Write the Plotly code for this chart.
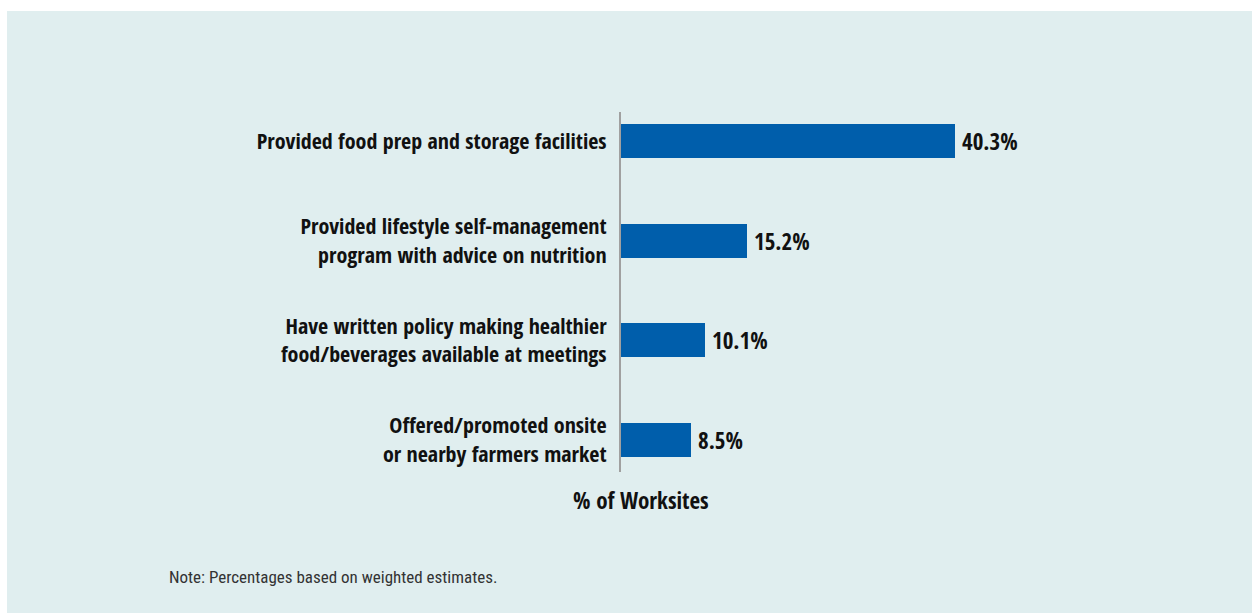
import plotly.graph_objects as go

categories = [
    "Provided food prep and storage facilities",
    "Provided lifestyle self-management<br>program with advice on nutrition",
    "Have written policy making healthier<br>food/beverages available at meetings",
    "Offered/promoted onsite<br>or nearby farmers market",
]
values = [40.3, 15.2, 10.1, 8.5]

W, H = 1252, 613
FONT = "Open Sans Condensed, Roboto Condensed, sans-serif"
NOTE_FONT = "Roboto Condensed, sans-serif"
PANEL = "#e0eeef"
BAR = "#005eab"
INK = "#111111"

positions = list(range(len(categories)))

fig = go.Figure(
    go.Bar(
        x=values,
        y=positions,
        orientation="h",
        width=0.34,
        marker=dict(color=BAR, line=dict(width=0)),
        cliponaxis=False,
        hoverinfo="skip",
    )
)

annotations = []

# value labels just past the bar ends
for pos, v in zip(positions, values):
    annotations.append(dict(
        text=f"{v}%", xref="x", yref="y",
        x=v, y=pos, xanchor="left", yanchor="middle",
        xshift=5, showarrow=False,
        font=dict(family=FONT, size=23, color=INK, weight="bold"),
    ))

annotations += [
    dict(
        text="% of Worksites",
        xref="paper", yref="paper",
        x=(641 - 621) / 580, y=-(500 - 472) / 360,
        xanchor="center", yanchor="middle",
        showarrow=False,
        font=dict(family=FONT, size=23, color=INK, weight="bold"),
    ),
    dict(
        text="Note: Percentages based on weighted estimates.",
        xref="paper", yref="paper",
        x=(167 - 621) / 580, y=-(577 - 472) / 360,
        xanchor="left", yanchor="middle",
        showarrow=False,
        font=dict(family=NOTE_FONT, size=17, color="#333333", weight=400),
    ),
]

fig.update_layout(
    width=W,
    height=H,
    paper_bgcolor="white",
    plot_bgcolor=PANEL,
    margin=dict(l=621, r=51, t=112, b=141, autoexpand=False),
    showlegend=False,
    bargap=0,
    xaxis=dict(
        range=[0, 70],
        showgrid=False,
        zeroline=False,
        showticklabels=False,
        showline=False,
        ticks="",
    ),
    yaxis=dict(
        range=[3.32, -0.29],
        tickmode="array",
        tickvals=positions,
        ticktext=categories,
        tickfont=dict(family=FONT, size=22, color=INK, weight="bold"),
        ticks="outside",
        ticklen=8,
        tickcolor="rgba(0,0,0,0)",
        showgrid=False,
        zeroline=False,
        showline=True,
        linecolor="#a0a0a0",
        linewidth=2,
    ),
    shapes=[
        dict(
            type="rect", xref="paper", yref="paper",
            x0=(7 - 621) / 580, x1=(W - 621) / 580,
            y0=-(H - 472) / 360, y1=1 + (112 - 11) / 360,
            fillcolor=PANEL, line=dict(width=0), layer="below",
        )
    ],
    annotations=annotations,
)

fig.write_html("out.html")
